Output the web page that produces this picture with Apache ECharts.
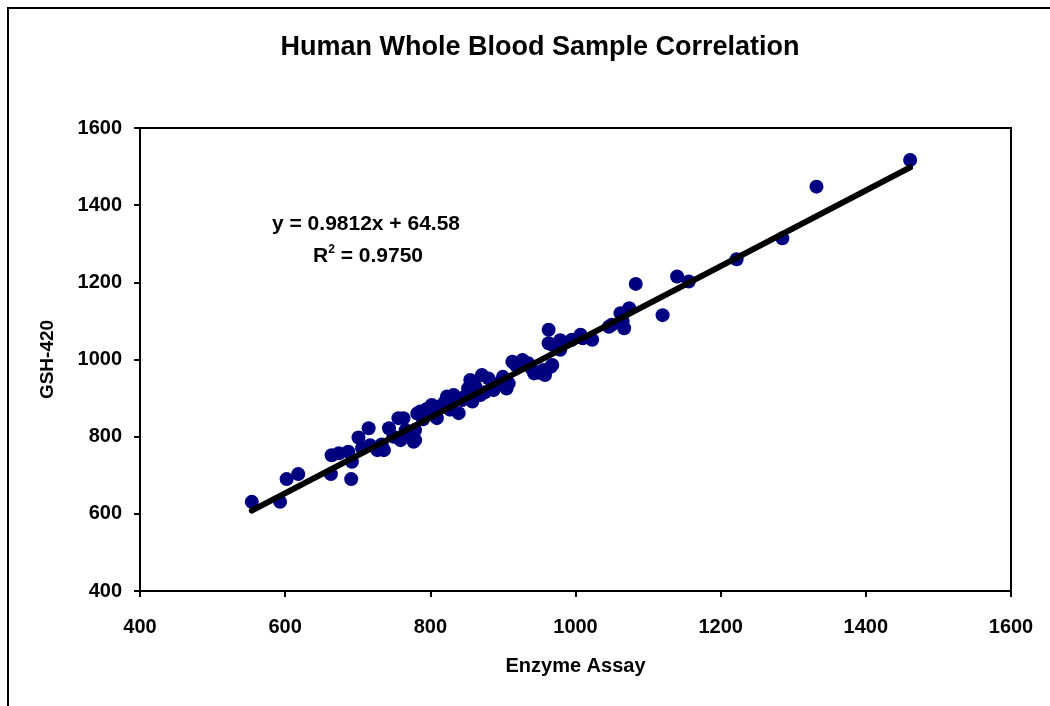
<!DOCTYPE html>
<html>
<head>
<meta charset="utf-8">
<title>Human Whole Blood Sample Correlation</title>
<script src="https://cdn.jsdelivr.net/npm/echarts@6/dist/echarts.min.js"></script>
<style>
	html, body { margin: 0; padding: 0; background: #fff; }
	#chart { width: 1050px; height: 706px; }
</style>
</head>
<body>
<div id="chart"></div>
<script>
// data
var enzymeAssay = [554, 593, 602, 618, 663, 691, 664, 674, 687, 692, 701, 715, 706, 717, 727, 736, 743, 756, 759, 749,
	777, 782, 768, 763, 766, 779, 779, 786, 802, 809, 823, 832, 839, 844, 855, 858, 871, 880, 869, 897,
	908, 887, 913, 927, 943, 966, 968, 952, 956, 968, 963, 963, 979, 979, 995, 1007, 1023, 1046, 1062, 1074,
	1067, 1083, 1120, 1140, 1156, 1222, 1285, 1332, 1461,
	795, 805, 815, 820, 827, 835, 848, 852, 862, 875, 890, 900, 905, 918, 935, 940, 958, 1010, 1050, 1065,
	733, 790, 798];
var gsh420 = [631, 631, 690, 703, 703, 690, 752, 757, 761, 735, 798, 822, 770, 778, 765, 765, 822, 848, 791, 800,
	787, 860, 809, 848, 817, 791, 817, 865, 882, 848, 904, 908, 861, 895, 947, 891, 960, 951, 908, 942,
	938, 921, 994, 999, 964, 981, 1038, 965, 973, 986, 1077, 1042, 1050, 1025, 1051, 1064, 1051, 1085, 1120, 1133,
	1081, 1196, 1115, 1215, 1202, 1260, 1314, 1448, 1517,
	872, 876, 880, 890, 870, 900, 905, 925, 930, 915, 935, 955, 925, 985, 990, 975, 960, 1055, 1090, 1100,
	780, 845, 862];
var axisTicks = [400, 600, 800, 1000, 1200, 1400, 1600];
var slope = 0.9812;
var intercept = 64.58;

var points = enzymeAssay.map(function (x, i) { return [x, gsh420[i]]; });
var xMin = Math.min.apply(null, enzymeAssay);
var xMax = Math.max.apply(null, enzymeAssay);
var trend = [[xMin, slope * xMin + intercept], [xMax, slope * xMax + intercept]];

var font = "'Liberation Sans', Arial, sans-serif";
var chart = echarts.init(document.getElementById('chart'));

var option = {
	backgroundColor: '#fff',
	animation: false,
	title: {
		text: 'Human Whole Blood Sample Correlation',
		left: 535,
		top: 29,
		textAlign: 'center',
		textStyle: { fontFamily: font, fontSize: 27, fontWeight: 'bold', color: '#000' }
	},
	grid: {
		left: 140, right: 39, top: 128, bottom: 115,
		show: true, borderColor: '#000', borderWidth: 2
	},
	xAxis: {
		type: 'value',
		min: axisTicks[0],
		max: axisTicks[axisTicks.length - 1],
		interval: 200,
		name: 'Enzyme Assay',
		nameLocation: 'middle',
		nameGap: 65,
		nameTextStyle: { fontFamily: font, fontSize: 20, fontWeight: 'bold', color: '#000' },
		axisLine: { show: true, lineStyle: { color: '#000', width: 2 } },
		axisTick: { show: true, length: 6, lineStyle: { color: '#000', width: 2 } },
		axisLabel: { margin: 26, fontFamily: font, fontSize: 20, fontWeight: 'bold', color: '#000',
			formatter: function (v) { return String(v); } },
		splitLine: { show: false }
	},
	yAxis: {
		type: 'value',
		min: axisTicks[0],
		max: axisTicks[axisTicks.length - 1],
		interval: 200,
		name: 'GSH-420',
		nameLocation: 'middle',
		nameRotate: 90,
		nameGap: 83,
		nameTextStyle: { fontFamily: font, fontSize: 19, fontWeight: 'bold', color: '#000' },
		axisLine: { show: true, lineStyle: { color: '#000', width: 2 } },
		axisTick: { show: true, length: 6, lineStyle: { color: '#000', width: 2 } },
		axisLabel: { margin: 18, fontFamily: font, fontSize: 20, fontWeight: 'bold', color: '#000',
			formatter: function (v) { return String(v); } },
		splitLine: { show: false }
	},
	graphic: [
		{
			type: 'rect',
			shape: { x: 8, y: 8, width: 1200, height: 900 },
			style: { fill: 'none', stroke: '#000', lineWidth: 2 },
			silent: true, z: -1
		},
		{
			type: 'text',
			left: 272, top: 214,
			style: {
				text: 'y = 0.9812x + 64.58',
				font: 'bold 21px ' + font, fill: '#000'
			}
		},
		{
			type: 'text',
			left: 313, top: 244,
			style: {
				text: 'R{sup|2} = 0.9750',
				font: 'bold 21px ' + font, fill: '#000',
				rich: {
					sup: { fontSize: 12, fontWeight: 'bold', fontFamily: font, verticalAlign: 'top', padding: [0, 0, 12, 0] }
				}
			}
		}
	],
	series: [
		{
			type: 'scatter',
			data: points,
			symbol: 'circle',
			symbolSize: 14,
			itemStyle: { color: '#000080', opacity: 1 },
			z: 2
		},
		{
			type: 'line',
			data: trend,
			symbol: 'none',
			lineStyle: { color: '#000', width: 6, cap: 'round' },
			z: 3
		}
	]
};
chart.setOption(option);
</script>
</body>
</html>
